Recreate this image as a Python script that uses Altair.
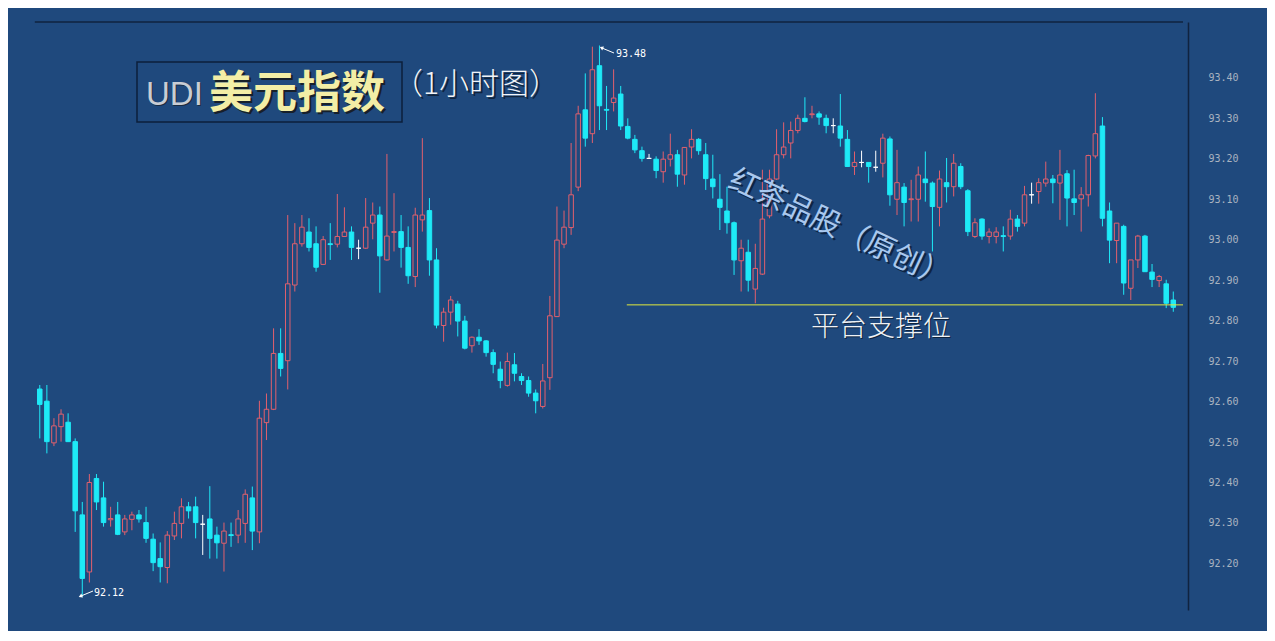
import altair as alt
import pandas as pd

# ---------------- data (hourly candles) ----------------
OPEN = [92.631, 92.601, 92.498, 92.538, 92.549, 92.501, 92.320, 92.179, 92.410, 92.362,
        92.308, 92.320, 92.278, 92.309, 92.320, 92.301, 92.260, 92.212, 92.190, 92.268,
        92.299, 92.340, 92.340, 92.297, 92.310, 92.270, 92.250, 92.271, 92.270, 92.299,
        92.362, 92.278, 92.548, 92.581, 92.719, 92.701, 92.888, 92.990, 93.019, 92.990,
        92.939, 92.990, 92.989, 93.008, 93.019, 92.979, 92.979, 93.041, 93.061, 92.950,
        93.018, 93.020, 92.981, 92.909, 93.049, 93.072, 92.950, 92.788, 92.821, 92.841,
        92.799, 92.738, 92.759, 92.750, 92.721, 92.680, 92.640, 92.691, 92.662, 92.652,
        92.621, 92.588, 92.659, 92.810, 92.989, 93.030, 93.130, 93.321, 93.262, 93.430,
        93.322, 93.339, 93.360, 93.280, 93.248, 93.220, 93.201, 93.199, 93.168, 93.199,
        93.210, 93.160, 93.229, 93.248, 93.210, 93.150, 93.100, 93.071, 93.042, 92.948,
        92.969, 92.878, 92.915, 93.059, 93.150, 93.210, 93.239, 93.270, 93.300, 93.309,
        93.311, 93.300, 93.282, 93.281, 93.248, 93.181, 93.191, 93.191, 93.179, 93.189,
        93.249, 93.100, 93.130, 93.099, 93.100, 93.150, 93.140, 93.080, 93.141, 93.131,
        93.181, 93.121, 93.008, 93.051, 93.008, 93.008, 93.010, 93.009, 93.051, 93.041,
        93.111, 93.119, 93.140, 93.150, 93.140, 93.163, 93.101, 93.101, 93.111, 93.207,
        93.281, 93.071, 92.998, 93.033, 92.880, 92.950, 93.009, 92.920, 92.899, 92.891,
        92.851]
HIGH = [92.641, 92.641, 92.559, 92.581, 92.571, 92.509, 92.352, 92.421, 92.421, 92.402,
        92.340, 92.352, 92.320, 92.328, 92.332, 92.340, 92.274, 92.252, 92.280, 92.328,
        92.361, 92.352, 92.365, 92.320, 92.391, 92.291, 92.301, 92.301, 92.332, 92.383,
        92.390, 92.602, 92.620, 92.781, 92.781, 93.061, 93.041, 93.061, 93.053, 93.033,
        93.009, 93.041, 93.113, 93.080, 93.033, 93.000, 93.103, 93.092, 93.082, 93.212,
        93.115, 93.061, 93.033, 93.079, 93.251, 93.103, 92.979, 92.832, 92.861, 92.849,
        92.812, 92.761, 92.779, 92.752, 92.729, 92.699, 92.721, 92.720, 92.670, 92.662,
        92.630, 92.693, 92.861, 93.082, 93.072, 93.239, 93.331, 93.411, 93.477, 93.480,
        93.380, 93.421, 93.380, 93.300, 93.259, 93.230, 93.212, 93.206, 93.218, 93.262,
        93.222, 93.229, 93.273, 93.251, 93.239, 93.210, 93.162, 93.131, 93.045, 93.000,
        93.000, 92.990, 93.173, 93.173, 93.273, 93.290, 93.292, 93.309, 93.352, 93.331,
        93.317, 93.309, 93.300, 93.360, 93.271, 93.218, 93.220, 93.191, 93.220, 93.262,
        93.255, 93.222, 93.140, 93.148, 93.181, 93.218, 93.144, 93.171, 93.202, 93.212,
        93.189, 93.125, 93.053, 93.053, 93.028, 93.031, 93.033, 93.074, 93.061, 93.133,
        93.141, 93.152, 93.193, 93.160, 93.222, 93.172, 93.173, 93.130, 93.210, 93.362,
        93.303, 93.092, 93.041, 93.037, 92.950, 93.012, 93.012, 92.940, 92.913, 92.901,
        92.872]
LOW = [92.509, 92.472, 92.490, 92.501, 92.501, 92.278, 92.118, 92.153, 92.332, 92.291,
       92.291, 92.270, 92.270, 92.282, 92.301, 92.251, 92.181, 92.153, 92.151, 92.258,
       92.262, 92.311, 92.262, 92.221, 92.212, 92.212, 92.180, 92.241, 92.250, 92.251,
       92.233, 92.250, 92.505, 92.579, 92.662, 92.630, 92.872, 92.983, 92.971, 92.921,
       92.938, 92.950, 92.981, 93.008, 92.950, 92.952, 92.977, 93.001, 92.869, 92.948,
       92.971, 92.931, 92.891, 92.883, 93.020, 92.911, 92.781, 92.748, 92.790, 92.761,
       92.729, 92.721, 92.740, 92.711, 92.670, 92.633, 92.637, 92.650, 92.641, 92.612,
       92.571, 92.583, 92.629, 92.810, 92.979, 93.012, 93.120, 93.230, 93.239, 93.271,
       93.271, 93.317, 93.271, 93.248, 93.214, 93.193, 93.201, 93.152, 93.141, 93.181,
       93.131, 93.136, 93.201, 93.210, 93.123, 93.102, 93.024, 93.015, 92.913, 92.872,
       92.872, 92.843, 92.913, 93.053, 93.148, 93.201, 93.201, 93.263, 93.290, 93.300,
       93.284, 93.263, 93.263, 93.230, 93.181, 93.160, 93.179, 93.141, 93.168, 93.154,
       93.084, 93.061, 93.033, 93.045, 93.045, 93.094, 92.971, 93.033, 93.092, 93.107,
       93.125, 93.009, 93.004, 93.000, 92.991, 92.991, 92.971, 93.000, 93.020, 93.033,
       93.089, 93.089, 93.131, 93.090, 93.049, 93.033, 93.061, 93.020, 93.082, 93.201,
       93.033, 92.942, 92.942, 92.864, 92.851, 92.930, 92.921, 92.883, 92.883, 92.831,
       92.822]
CLOSE = [92.593, 92.501, 92.540, 92.569, 92.501, 92.330, 92.163, 92.400, 92.352, 92.301,
         92.311, 92.272, 92.310, 92.320, 92.310, 92.262, 92.202, 92.192, 92.270, 92.299,
         92.340, 92.330, 92.301, 92.297, 92.262, 92.251, 92.280, 92.269, 92.310, 92.371,
         92.280, 92.559, 92.581, 92.719, 92.682, 92.891, 92.990, 93.031, 92.981, 92.932,
         93.000, 92.988, 93.008, 93.019, 92.981, 92.979, 93.031, 93.061, 92.960, 93.009,
         93.020, 92.981, 92.911, 93.061, 93.061, 92.950, 92.789, 92.821, 92.851, 92.799,
         92.732, 92.759, 92.750, 92.721, 92.692, 92.652, 92.699, 92.670, 92.652, 92.621,
         92.602, 92.651, 92.812, 92.999, 93.031, 93.111, 93.311, 93.251, 93.420, 93.331,
         93.320, 93.350, 93.281, 93.251, 93.222, 93.201, 93.201, 93.171, 93.199, 93.210,
         93.162, 93.228, 93.248, 93.220, 93.151, 93.131, 93.080, 93.042, 92.950, 92.979,
         92.900, 92.929, 93.051, 93.150, 93.210, 93.229, 93.270, 93.300, 93.292, 93.311,
         93.303, 93.282, 93.282, 93.251, 93.181, 93.191, 93.191, 93.181, 93.179, 93.251,
         93.111, 93.141, 93.092, 93.101, 93.160, 93.141, 93.082, 93.150, 93.131, 93.189,
         93.131, 93.020, 93.042, 93.009, 93.019, 93.019, 93.008, 93.051, 93.033, 93.111,
         93.111, 93.141, 93.150, 93.141, 93.160, 93.103, 93.092, 93.111, 93.208, 93.262,
         93.053, 92.999, 93.041, 92.893, 92.950, 93.009, 92.921, 92.902, 92.909, 92.843,
         92.833]

Y_TICKS = [92.20, 92.30, 92.40, 92.50, 92.60, 92.70, 92.80, 92.90, 93.00, 93.10, 93.20, 93.30, 93.40]
SUPPORT_LEVEL = 92.839
SUPPORT_START = 82.86

TITLE_EN = "UDI"
TITLE_CN = "美元指数"
TITLE_SUB = "（1小时图）"
WATERMARK = "红茶品股（原创）"
SUPPORT_LABEL = "平台支撑位"
HIGH_LABEL = "93.48"
LOW_LABEL = "92.12"

# ---------------- styles ----------------
BG = "#1f497d"
CYAN = "#1eeaf7"
RED = "#e2606d"
WHITE = "#ffffff"
CJK = "Noto Sans CJK SC"

n = len(OPEN)
kind = ["up" if c > o else ("down" if c < o else "flat") for o, c in zip(OPEN, CLOSE)]
df = pd.DataFrame({"i": list(range(n)), "open": OPEN, "high": HIGH, "low": LOW,
                   "close": CLOSE, "kind": kind})

XDOM = [-3.78, 161.37]
x_scale = alt.Scale(domain=XDOM, nice=False, zero=False)
y_scale = alt.Scale(domain=[92.085, 93.538], nice=False, zero=False)
KDOM = ["up", "down", "flat"]

base = alt.Chart(df)
wicks = base.mark_rule(strokeWidth=1).encode(
    x=alt.X("i:Q", scale=x_scale, axis=None),
    y=alt.Y("low:Q", scale=y_scale,
            axis=alt.Axis(orient="right", values=Y_TICKS, format=".2f", grid=False,
                          ticks=False, domainColor="#10233f", domainWidth=1.5,
                          labelColor="#a9b3c0", labelFont="DejaVu Sans Mono",
                          labelFontSize=10, labelPadding=20, title=None)),
    y2="high:Q",
    color=alt.Color("kind:N", scale=alt.Scale(domain=KDOM, range=[RED, CYAN, WHITE]), legend=None),
)
bodies = base.mark_bar(size=4.5, strokeWidth=1).encode(
    x=alt.X("i:Q", scale=x_scale),
    y=alt.Y("open:Q", scale=y_scale),
    y2="close:Q",
    fill=alt.Fill("kind:N", scale=alt.Scale(domain=KDOM, range=[BG, CYAN, WHITE]), legend=None),
    stroke=alt.Stroke("kind:N", scale=alt.Scale(domain=KDOM, range=[RED, CYAN, WHITE]), legend=None),
)

one = pd.DataFrame({"k": [0]})
support = alt.Chart(one).mark_rule(color="#e2ea3c", strokeWidth=1).encode(
    x=alt.datum(SUPPORT_START), x2=alt.datum(XDOM[1]), y=alt.datum(SUPPORT_LEVEL))
topline = alt.Chart(one).mark_rule(color="#10233f", strokeWidth=1.5).encode(
    x=alt.datum(-0.7), x2=alt.datum(XDOM[1]), y=alt.value(0))

box = alt.Chart(one).mark_rect(fillOpacity=0, stroke="#0c1f3b", strokeWidth=1.5).encode(
    x=alt.value(129), x2=alt.value(394), y=alt.value(40), y2=alt.value(100))


def txt(s, x, y, **kw):
    return alt.Chart(pd.DataFrame({"t": [s]})).mark_text(**kw).encode(
        text="t:N", x=alt.value(x), y=alt.value(y))


layers = [wicks, bodies, support, topline, box]
layers += [
    txt(TITLE_EN, 139, 84, font="Liberation Sans", fontSize=33, color="#1a1a1a", align="left", baseline="alphabetic", opacity=0.6),
    txt(TITLE_EN, 138, 83, font="Liberation Sans", fontSize=33, color="#c9cdd4", align="left", baseline="alphabetic"),
    txt(TITLE_CN, 203, 88, font=CJK, fontSize=44, fontWeight="bold", color="#161616", align="left", baseline="alphabetic", opacity=0.8),
    txt(TITLE_CN, 201, 86, font=CJK, fontSize=44, fontWeight="bold", color="#f3eea6", align="left", baseline="alphabetic"),
    txt(TITLE_SUB, 387, 74, font=CJK, fontSize=30, fontWeight=300, color="#0d1a2c", align="left", baseline="alphabetic", opacity=0.8),
    txt(TITLE_SUB, 385, 72, font=CJK, fontSize=30, fontWeight=300, color="#f2f4f7", align="left", baseline="alphabetic"),
    txt(WATERMARK, 833, 209, font=CJK, fontSize=30, color="#0b1c36", angle=25, align="center", baseline="middle", opacity=0.8),
    txt(WATERMARK, 831, 207, font=CJK, fontSize=30, color="#a9c8ee", angle=25, align="center", baseline="middle"),
    txt(SUPPORT_LABEL, 874, 307, font=CJK, fontSize=28, fontWeight=300, color="#0d1a2c", align="center", baseline="middle", opacity=0.8),
    txt(SUPPORT_LABEL, 873, 306, font=CJK, fontSize=28, fontWeight=300, color="#eef2f6", align="center", baseline="middle"),
    txt(HIGH_LABEL, 608, 35, font="DejaVu Sans Mono", fontSize=10, color="#ffffff", align="left", baseline="alphabetic"),
    txt(LOW_LABEL, 86, 574, font="DejaVu Sans Mono", fontSize=10, color="#ffffff", align="left", baseline="alphabetic"),
]
# little arrows pointing to the extreme candles
arrows = [((606, 31), (594, 26), 295), ((85, 569), (73, 574), 247)]
for (tx, ty), (hx, hy), ang in arrows:
    layers.append(alt.Chart(one).mark_rule(color="#ffffff", strokeWidth=1).encode(
        x=alt.value(tx), y=alt.value(ty), x2=alt.value(hx), y2=alt.value(hy)))
    layers.append(alt.Chart(one).mark_point(shape="triangle", filled=True, color="#ffffff",
                                            size=18, angle=ang, opacity=1).encode(
        x=alt.value(hx), y=alt.value(hy)))

chart = alt.layer(*layers).properties(
    width=1180, height=588,
    autosize=alt.AutoSizeParams(type="none"),
    padding={"left": 0, "top": 14, "right": 79, "bottom": 21},
    background=BG,
).configure_view(stroke=None)

chart.save("out.html", embed_options={"renderer": "svg", "actions": False})
